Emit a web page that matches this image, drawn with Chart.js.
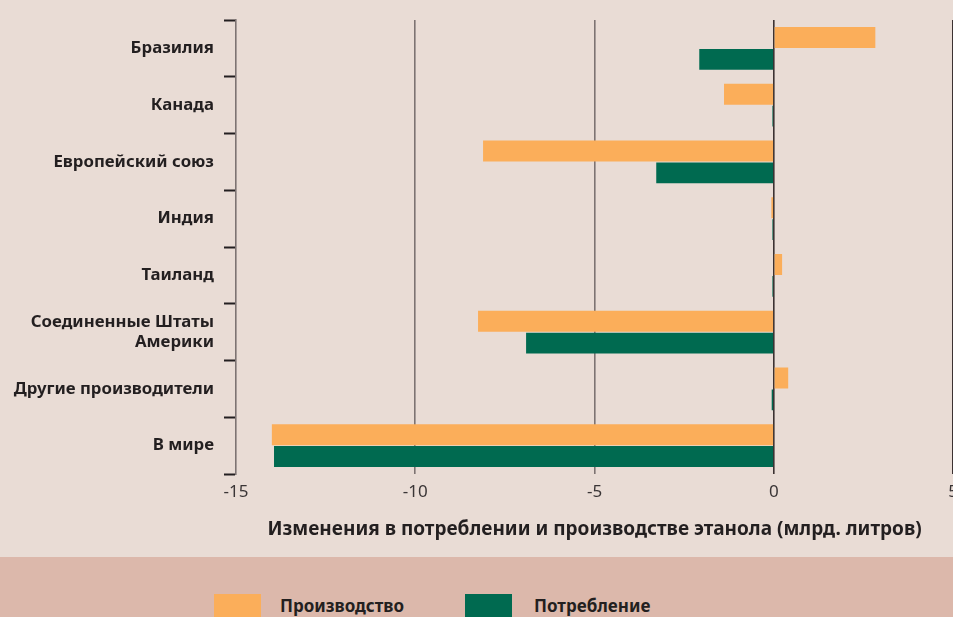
<!DOCTYPE html>
<html>
<head>
<meta charset="utf-8">
<script src="https://cdn.jsdelivr.net/npm/chart.js@4"></script>
<style>
  html, body { margin: 0; padding: 0; background: #e9dcd5; overflow: hidden; }
  #wrap { position: relative; width: 953px; height: 617px; overflow: hidden; font-family: 'Noto Sans', sans-serif; }
  #box { position: absolute; left: 0; top: 0; width: 966px; height: 557px; }
  #band { position: absolute; left: 0; top: 557px; width: 953px; height: 60px; background: #dcb8ab; }
  .key { position: absolute; top: 37px; width: 47px; height: 30px; }
  .lbl { position: absolute; top: 37px; font-weight: bold; font-size: 17px; color: #231f20; white-space: nowrap; }
</style>
</head>
<body>
<div id="wrap">
  <div id="band"></div>
  <div id="box"><canvas id="chart"></canvas></div>
</div>
<script>
const categories = ['Бразилия', 'Канада', 'Европейский союз', 'Индия', 'Таиланд',
  ['Соединенные Штаты', 'Америки'], 'Другие производители', 'В мире'];
const production = [2.83, -1.39, -8.11, -0.07, 0.23, -8.25, 0.40, -14.0];
const consumption = [-2.08, -0.04, -3.28, -0.04, -0.04, -6.91, -0.06, -13.94];
const seriesNames = ['Производство', 'Потребление'];
const xTitle = 'Изменения в потреблении и производстве этанола (млрд. литров)';

const orange = '#fbae5a';
const green = '#006a50';
const ink = '#231f20';

const config = {
  type: 'bar',
  data: {
    labels: categories,
    datasets: [
      { label: seriesNames[0], data: production, backgroundColor: orange },
      { label: seriesNames[1], data: consumption, backgroundColor: green }
    ]
  },
  options: {
    indexAxis: 'y',
    responsive: false,
    animation: false,
    categoryPercentage: 0.77,
    barPercentage: 0.955,
    layout: { padding: { top: 17, left: 0, right: 0, bottom: 0 } },
    scales: {
      x: {
        min: -15,
        max: 5,
        ticks: { stepSize: 5, color: '#3a3536', padding: 8, font: { family: 'Noto Sans', size: 17 } },
        grid: {
          drawTicks: false,
          lineWidth: 1.6,
          color: (ctx) => {
            const v = ctx.tick ? ctx.tick.value : null;
            if (v === -15) return 'rgba(0,0,0,0)';
            if (v === 0 || v === 5) return '#3c3232';
            return '#7d7372';
          }
        },
        border: { display: false },
        title: {
          display: true,
          text: xTitle,
          color: ink,
          font: { family: 'Noto Sans', size: 19, weight: 'bold' },
          padding: { top: 0, bottom: 16 }
        },
        afterFit: (scale) => { scale.height = 83; }
      },
      y: {
        offset: true,
        ticks: { color: ink, padding: 10, font: { family: 'Noto Sans', size: 16.8, weight: 'bold', lineHeight: 1.2 } },
        grid: {
          offset: true,
          drawOnChartArea: false,
          drawTicks: true,
          tickLength: 12,
          tickWidth: 2,
          tickColor: ink
        },
        border: { display: true, color: '#7d7372', width: 1.6 },
        afterFit: (scale) => { scale.width = 236; }
      }
    },
    plugins: {
      legend: { display: false },
      tooltip: { enabled: false }
    }
  }
};

const canvas = document.getElementById('chart');
canvas.width = 966;
canvas.height = 557;
const myChart = new Chart(canvas, config);

// legend in the bottom band
const band = document.getElementById('band');
const keyX = [214, 465];
const lblX = [280, 534];
myChart.data.datasets.forEach((ds, i) => {
  const k = document.createElement('div');
  k.className = 'key';
  k.style.left = keyX[i] + 'px';
  k.style.background = ds.backgroundColor;
  band.appendChild(k);
  const t = document.createElement('div');
  t.className = 'lbl';
  t.style.left = lblX[i] + 'px';
  t.textContent = ds.label;
  band.appendChild(t);
});
</script>
</body>
</html>
